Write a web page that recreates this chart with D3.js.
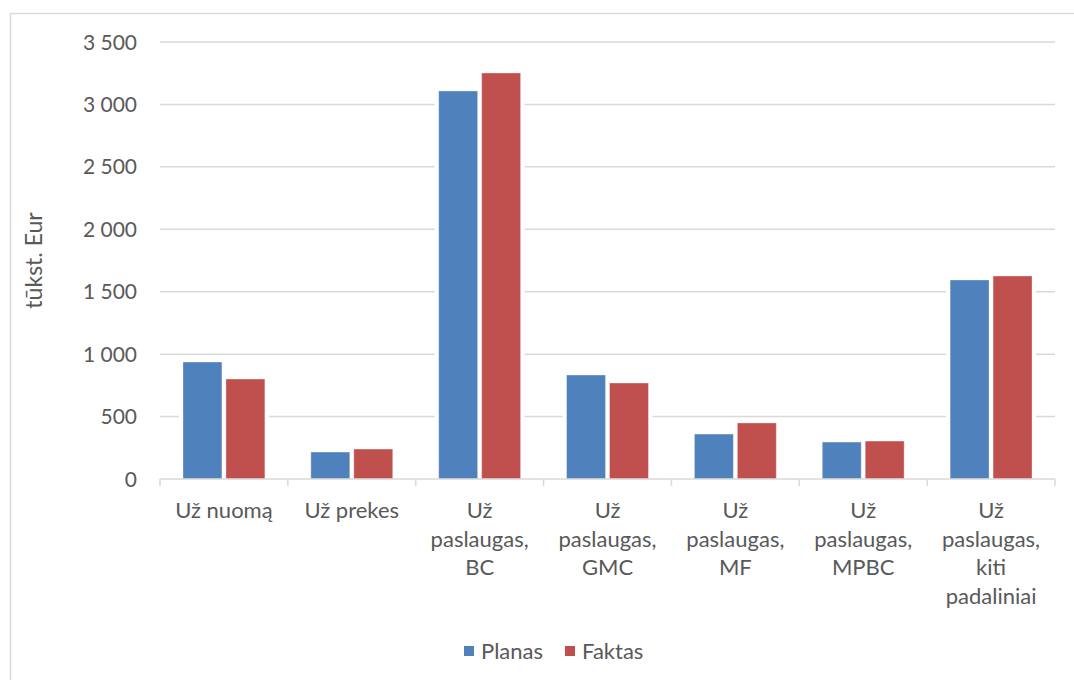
<!DOCTYPE html>
<html>
<head>
<meta charset="utf-8">
<script src="https://cdn.jsdelivr.net/npm/d3@7"></script>
<style>
  html, body { margin: 0; padding: 0; background: #fff; }
  svg { display: block; }
  text { font-family: Lato, "Open Sans", sans-serif; fill: #595959; }
</style>
</head>
<body>
<svg id="chart" width="1074" height="680"></svg>
<script>
const categories = [
  ["Už nuomą"],
  ["Už prekes"],
  ["Už", "paslaugas,", "BC"],
  ["Už", "paslaugas,", "GMC"],
  ["Už", "paslaugas,", "MF"],
  ["Už", "paslaugas,", "MPBC"],
  ["Už", "paslaugas,", "kiti", "padaliniai"]
];
const seriesNames = ["Planas", "Faktas"];
const planas = [937, 216, 3108, 833, 360, 296, 1594];
const faktas = [801, 240, 3252, 769, 449, 304, 1626];
const yTicks = [0, 500, 1000, 1500, 2000, 2500, 3000, 3500];
const yTickLabels = ["0", "500", "1 000", "1 500", "2 000", "2 500", "3 000", "3 500"];
const colors = ["#4F81BD", "#C0504D"];

const svg = d3.select("#chart");
const margin = { left: 160, right: 1055, top: 42, bottom: 479 };

// outer border
svg.append("rect").attr("x", 10.5).attr("y", 13.5).attr("width", 1100).attr("height", 700)
  .attr("fill", "none").attr("stroke", "#d9d9d9").attr("stroke-width", 1.5);

const x = d3.scaleBand().domain(d3.range(categories.length)).range([margin.left, margin.right]).paddingInner(0).paddingOuter(0);
const xs = d3.scaleBand().domain(seriesNames).range([0, x.bandwidth()]).paddingInner(0.093).paddingOuter(0.535);
const y = d3.scaleLinear().domain([0, 3500]).range([margin.bottom, margin.top]);

// gridlines
svg.append("g").selectAll("line").data(yTicks.filter(d => d > 0)).join("line")
  .attr("x1", margin.left).attr("x2", margin.right)
  .attr("y1", d => y(d)).attr("y2", d => y(d))
  .attr("stroke", "#d9d9d9").attr("stroke-width", 1.5);

// y tick labels
svg.append("g").selectAll("text").data(yTicks).join("text")
  .attr("x", 137).attr("y", d => y(d)).attr("dy", "0.36em")
  .attr("text-anchor", "end").style("font-size", "21px")
  .text((d, i) => yTickLabels[i]);

// axis title
svg.append("text").attr("transform", `translate(42,${(margin.top + margin.bottom) / 2}) rotate(-90)`)
  .attr("text-anchor", "middle").style("font-size", "23px").text("tūkst. Eur");

const data = categories.map((c, i) => ({ i, values: [planas[i], faktas[i]] }));

// white gaps behind bar groups
svg.append("g").selectAll("rect").data(data).join("rect")
  .attr("x", d => x(d.i) + xs("Planas") - 4)
  .attr("width", xs("Faktas") + xs.bandwidth() - xs("Planas") + 8)
  .attr("y", d => y(d3.max(d.values)) - 4)
  .attr("height", d => margin.bottom - y(d3.max(d.values)) + 4)
  .attr("fill", "#fff");

// bars
const groups = svg.append("g").selectAll("g").data(data).join("g")
  .attr("transform", d => `translate(${x(d.i)},0)`);
groups.selectAll("rect").data(d => d.values.map((v, k) => ({ v, k }))).join("rect")
  .attr("x", d => xs(seriesNames[d.k]))
  .attr("width", xs.bandwidth())
  .attr("y", d => y(d.v))
  .attr("height", d => y(0) - y(d.v))
  .attr("fill", d => colors[d.k])
  .attr("stroke", "rgba(255,255,255,0.35)").attr("stroke-width", 1);

// x axis line and ticks
svg.append("line").attr("x1", margin.left).attr("x2", margin.right)
  .attr("y1", margin.bottom).attr("y2", margin.bottom)
  .attr("stroke", "#d9d9d9").attr("stroke-width", 1.5);
const bounds = d3.range(categories.length + 1).map(i => i < categories.length ? x(i) : margin.right);
svg.append("g").selectAll("line").data(bounds).join("line")
  .attr("x1", d => d).attr("x2", d => d)
  .attr("y1", margin.bottom).attr("y2", margin.bottom + 7)
  .attr("stroke", "#d9d9d9").attr("stroke-width", 1.5);

// category labels
const lab = svg.append("g").selectAll("text").data(categories).join("text")
  .attr("text-anchor", "middle").style("font-size", "22px")
  .attr("transform", (d, i) => `translate(${x(i) + x.bandwidth() / 2},518)`);
lab.selectAll("tspan").data(d => d).join("tspan")
  .attr("x", 0).attr("y", (d, j) => j * 28.5).text(d => d);

// legend
const legend = svg.append("g");
const legX = [464, 565];
seriesNames.forEach((s, k) => {
  legend.append("rect").attr("x", legX[k]).attr("y", 646).attr("width", 10).attr("height", 10).attr("fill", colors[k]);
  legend.append("text").attr("x", legX[k] + 17).attr("y", 651).attr("dy", "0.36em")
    .style("font-size", "22px").text(s);
});
</script>
</body>
</html>
